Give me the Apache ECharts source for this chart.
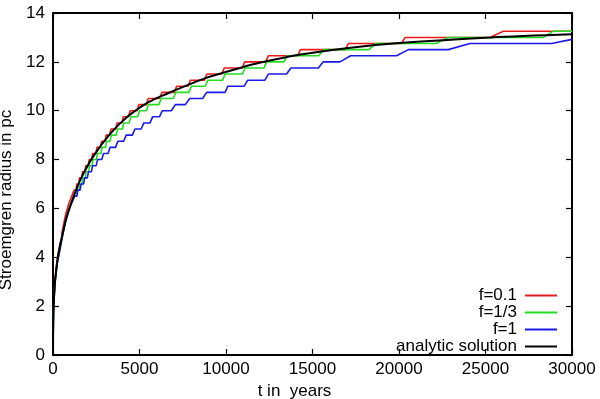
<!DOCTYPE html>
<html>
<head>
<meta charset="utf-8">
<script src="https://cdn.jsdelivr.net/npm/echarts@6/dist/echarts.min.js"></script>
<style>
  html, body { margin: 0; padding: 0; background: #fff; }
  #chart { width: 600px; height: 399px; }
</style>
</head>
<body>
<div id="chart"></div>
<script>
// values: [t in years, radius in pc]
var xTicks = [0, 5000, 10000, 15000, 20000, 25000, 30000];
var yTicks = [0, 2, 4, 6, 8, 10, 12, 14];
var legendNames = ['f=0.1', 'f=1/3', 'f=1', 'analytic solution'];

// f=0.1 (red)
var redSteps = [[0,0],[30,2.0],[116,3.1],[250,3.95],[400,4.55],[504,4.8],[520,5.0],[572,5.0],[585,5.25],
  [640,5.25],[655,5.5],[712,5.5],[730,5.75],[812,5.75],[830,6.0],[916,6.0],[940,6.25],[1053,6.25],[1080,6.5],
  [1189,6.5],[1220,6.75],[1341,6.75],[1370,7.0],[1495,7.0],[1530,7.25],[1662,7.25],[1700,7.5],[1857,7.5],
  [1895,7.75],[2051,7.75],[2090,8.0],[2246,8.0],[2290,8.25],[2490,8.25],[2540,8.5],[2753,8.5],[2810,8.75],
  [3016,8.75],[3070,9.0],[3279,9.0],[3350,9.25],[3629,9.25],[3700,9.5],[3986,9.5],[4060,9.75],[4360,9.75],
  [4460,10.0],[4860,10.0],[4960,10.25],[5400,10.25],[5500,10.5],[6150,10.5],[6300,10.75],[7000,10.75],
  [7150,11.0],[7800,11.0],[7950,11.25],[8750,11.25],[8900,11.5],[9750,11.5],[9900,11.75],[10950,11.75],
  [11080,12.0],[12300,12.0],[12450,12.25],[14150,12.25],[14300,12.5],[16880,12.5],[17070,12.75],
  [20150,12.75],[20350,13.0],[25260,13.0],[26030,13.25],[30000,13.25]];

// f=1/3 (green)
var greenSteps = [[0,0],[30,1.85],[116,2.95],[250,3.75],[400,4.35],[520,4.75],[577,4.75],[592,5.0],[646,5.0],
  [662,5.25],[720,5.25],[738,5.5],[820,5.5],[840,5.75],[927,5.75],[950,6.0],[1064,6.0],[1090,6.25],[1200,6.25],
  [1230,6.5],[1354,6.5],[1385,6.75],[1508,6.75],[1545,7.0],[1678,7.0],[1715,7.25],[1872,7.25],[1910,7.5],
  [2067,7.5],[2105,7.75],[2261,7.75],[2310,8.0],[2511,8.0],[2560,8.25],[2774,8.25],[2830,8.5],[3037,8.5],
  [3100,8.75],[3300,8.75],[3370,9.0],[3657,9.0],[3730,9.25],[4015,9.25],[4090,9.5],[4400,9.5],[4500,9.75],
  [4900,9.75],[5000,10.0],[5400,10.0],[5520,10.25],[6120,10.25],[6260,10.5],[6950,10.5],[7100,10.75],
  [7850,10.75],[8000,11.0],[8800,11.0],[8950,11.25],[9800,11.25],[9950,11.5],[10950,11.5],[11100,11.75],
  [12200,11.75],[12350,12.0],[13350,12.0],[13550,12.25],[15350,12.25],[15650,12.5],[18250,12.5],
  [18650,12.75],[22150,12.75],[22850,13.0],[28350,13.0],[28900,13.25],[30000,13.25]];

// f=1 (blue)
var blueSteps = [[0,0],[30,1.9],[116,3.0],[250,3.8],[400,4.3],[448,4.5],[496,4.5],[516,4.75],[564,4.75],
  [584,5.0],[632,5.0],[653,5.25],[707,5.25],[730,5.5],[800,5.5],[830,5.75],[910,5.75],[945,6.0],[1050,6.0],
  [1095,6.25],[1207,6.25],[1255,6.5],[1382,6.5],[1436,6.75],[1566,6.75],[1622,7.0],[1768,7.0],[1830,7.25],
  [1984,7.25],[2050,7.5],[2218,7.5],[2290,7.75],[2493,7.75],[2580,8.0],[2818,8.0],[2920,8.25],[3186,8.25],
  [3300,8.5],[3615,8.5],[3750,8.75],[4086,8.75],[4230,9.0],[4587,9.0],[4740,9.25],[5097,9.25],[5250,9.5],
  [5607,9.5],[5760,9.75],[6152,9.75],[6320,10.0],[6845,10.0],[7070,10.25],[7650,10.25],[7900,10.5],
  [8650,10.5],[8880,10.75],[9950,10.75],[10100,11.0],[11050,11.0],[11250,11.25],[12250,11.25],[12450,11.5],
  [13500,11.5],[13750,11.75],[15340,11.75],[15620,12.0],[16590,12.0],[17200,12.25],[19860,12.25],
  [20540,12.5],[22850,12.5],[24100,12.75],[28820,12.75],[30000,12.92]];

// analytic solution (black)
var analytic = [[0,0],[10,1.33],[30,1.9],[60,2.4],[116,3.0],[250,3.85],[400,4.45],[700,5.4],[900,5.9],
  [1200,6.5],[1600,7.2],[2300,8.1],[3300,9.05],[4300,9.75],[5400,10.3],[6200,10.58],[7000,10.82],
  [8500,11.25],[9100,11.4],[10800,11.75],[12000,11.97],[14300,12.3],[17200,12.58],[20000,12.77],
  [25300,13.0],[30000,13.13]];

var font = 'Liberation Sans';

function makeX(pos, labels) {
  return {
    type: 'value', position: pos, min: xTicks[0], max: xTicks[xTicks.length - 1], interval: 5000,
    axisLine: { show: true, onZero: false, lineStyle: { color: '#000', width: 2 } },
    axisTick: { show: true, inside: true, length: 6, lineStyle: { color: '#000', width: 1.2 } },
    axisLabel: { show: labels, color: '#000', fontSize: 17, fontFamily: font, margin: 6,
      formatter: function (v) { return String(v); } },
    splitLine: { show: false }
  };
}
function makeY(pos, labels) {
  return {
    type: 'value', position: pos, min: yTicks[0], max: yTicks[yTicks.length - 1], interval: 2,
    axisLine: { show: true, onZero: false, lineStyle: { color: '#000', width: 2 } },
    axisTick: { show: true, inside: true, length: 6, lineStyle: { color: '#000', width: 1.2 } },
    axisLabel: { show: labels, color: '#000', fontSize: 17, fontFamily: font, margin: 8 },
    splitLine: { show: false }
  };
}

var xBottom = makeX('bottom', true);
xBottom.name = 't in  years';
xBottom.nameLocation = 'middle';
xBottom.nameGap = 27;
xBottom.nameTextStyle = { color: '#000', fontSize: 17, fontFamily: font, padding: [0, 36, 0, 0] };

var yLeft = makeY('left', true);
yLeft.name = 'Stroemgren radius in pc';
yLeft.nameLocation = 'middle';
yLeft.nameGap = 33;
yLeft.nameTextStyle = { color: '#000', fontSize: 17, fontFamily: font, padding: [0, 32, 0, 0] };

function line(name, data, color, width, z) {
  return {
    name: name, type: 'line', data: data, showSymbol: false, symbol: 'none',
    xAxisIndex: 0, yAxisIndex: 0, z: z,
    lineStyle: { color: color, width: width }, itemStyle: { color: color }
  };
}

var chart = echarts.init(document.getElementById('chart'));
chart.setOption({
  animation: false,
  backgroundColor: '#fff',
  textStyle: { fontFamily: font },
  grid: { left: 53, right: 28, top: 13, bottom: 44, containLabel: false, outerBoundsMode: 'none' },
  legend: {
    data: legendNames, orient: 'vertical', right: 43, top: 287, align: 'right', padding: 0,
    icon: 'rect', itemWidth: 32, itemHeight: 2, itemGap: 0,
    textStyle: { color: '#000', fontSize: 17, fontFamily: font, lineHeight: 16.4, padding: [0, 3, 0, 0] }
  },
  xAxis: [xBottom, makeX('top', false)],
  yAxis: [yLeft, makeY('right', false)],
  series: [
    line(legendNames[0], redSteps, '#e81a1a', 1.6, 2),
    line(legendNames[1], greenSteps, '#22dd22', 1.6, 3),
    line(legendNames[2], blueSteps, '#1a1ae8', 1.6, 4),
    Object.assign(line(legendNames[3], analytic, '#000', 2, 5), { smooth: 0.3 })
  ]
});
</script>
</body>
</html>
